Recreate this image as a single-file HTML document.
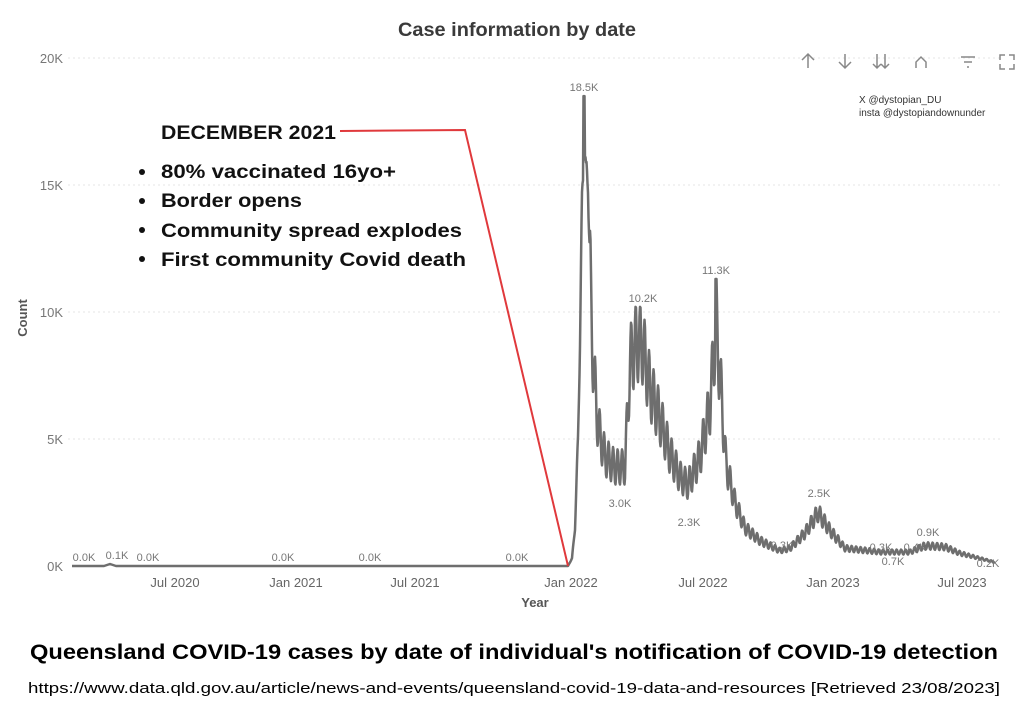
<!DOCTYPE html>
<html><head><meta charset="utf-8"><style>
body{margin:0;background:#fff;width:1016px;height:707px;overflow:hidden;font-family:"Liberation Sans",sans-serif}
</style></head><body>
<svg id="s" width="1016" height="707" xmlns="http://www.w3.org/2000/svg" font-family="Liberation Sans, sans-serif">
<text x="398" y="36" textLength="238" lengthAdjust="spacingAndGlyphs" font-size="19" font-weight="bold" fill="#3a3a3a">Case information by date</text>
<g stroke="#e6e6e6" stroke-dasharray="2,3" stroke-width="1">
<line x1="68" x2="1000" y1="58" y2="58"/><line x1="68" x2="1000" y1="185" y2="185"/>
<line x1="68" x2="1000" y1="312" y2="312"/><line x1="68" x2="1000" y1="439" y2="439"/>
</g>
<g font-size="13" fill="#777" text-anchor="end">
<text x="63" y="63">20K</text><text x="63" y="190">15K</text><text x="63" y="317">10K</text>
<text x="63" y="444">5K</text><text x="63" y="571">0K</text></g>
<text transform="translate(27,318) rotate(-90)" font-size="13" font-weight="bold" fill="#555" text-anchor="middle">Count</text>
<g font-size="13" fill="#666" text-anchor="middle">
<text x="175" y="587">Jul 2020</text><text x="296" y="587">Jan 2021</text><text x="415" y="587">Jul 2021</text>
<text x="571" y="587">Jan 2022</text><text x="703" y="587">Jul 2022</text><text x="833" y="587">Jan 2023</text><text x="962" y="587">Jul 2023</text></g>
<text x="535" y="607" font-size="13" font-weight="bold" fill="#555" text-anchor="middle">Year</text>
<path id="p" fill="none" stroke="#6e6e6e" stroke-width="2.5" stroke-linejoin="round"/>
<g font-size="11" fill="#777" text-anchor="middle">
<text x="84" y="561">0.0K</text><text x="117" y="559">0.1K</text><text x="148" y="561">0.0K</text>
<text x="283" y="561">0.0K</text><text x="370" y="561">0.0K</text><text x="517" y="561">0.0K</text>
<text x="584" y="91">18.5K</text><text x="643" y="302">10.2K</text><text x="716" y="274">11.3K</text>
<text x="620" y="507">3.0K</text><text x="689" y="526">2.3K</text><text x="819" y="497">2.5K</text>
<text x="782" y="549">0.3K</text><text x="881" y="551">0.3K</text><text x="893" y="565">0.7K</text>
<text x="915" y="551">0.4K</text><text x="928" y="536">0.9K</text><text x="988" y="567">0.2K</text></g>
<g font-size="10" fill="#333"><text x="859" y="103">X @dystopian_DU</text><text x="859" y="116">insta @dystopiandownunder</text></g>
<g stroke="#888" stroke-width="1.5" fill="none">
<path d="M808 68v-14M802 60l6-6 6 6"/><path d="M845 54v14M839 62l6 6 6-6"/>
<path d="M877 54v14M885 54v14M873 64l4 4 4-4M881 64l4 4 4-4"/>
<path d="M916 68v-6l5-5 5 5v6"/><path d="M961 57h14M964 62h8M967 67h2"/>
<path d="M1000 60v-5h5M1009 55h5v5M1014 64v5h-5M1005 69h-5v-5"/></g>
<polyline points="340,131 465,130 568,566" fill="none" stroke="#e0393c" stroke-width="2"/>
<g font-weight="bold" fill="#111" font-size="19" lengthAdjust="spacingAndGlyphs">
<text x="161" y="139" textLength="175" lengthAdjust="spacingAndGlyphs">DECEMBER 2021</text>
<text x="161" y="178" textLength="235" lengthAdjust="spacingAndGlyphs">80% vaccinated 16yo+</text>
<text x="161" y="207" textLength="141" lengthAdjust="spacingAndGlyphs">Border opens</text>
<text x="161" y="237" textLength="301" lengthAdjust="spacingAndGlyphs">Community spread explodes</text>
<text x="161" y="266" textLength="305" lengthAdjust="spacingAndGlyphs">First community Covid death</text></g>
<g fill="#111"><circle cx="142" cy="172" r="3"/><circle cx="142" cy="201" r="3"/><circle cx="142" cy="230" r="3"/><circle cx="142" cy="259" r="3"/></g>
<text x="30" y="659" textLength="968" lengthAdjust="spacingAndGlyphs" font-size="21" font-weight="bold" fill="#000">Queensland COVID-19 cases by date of individual's notification of COVID-19 detection</text>
<text x="28" y="693" textLength="972" lengthAdjust="spacingAndGlyphs" font-size="15" fill="#000">https://www.data.qld.gov.au/article/news-and-events/queensland-covid-19-data-and-resources [Retrieved 23/08/2023]</text>
</svg>
<script>
var env=[[568,0],[572,0.3],[575,1.5],[578,5],[580,9],[582,14],[584,17],[586,15],[588,15.5],[591,10],[594,7.5],[598,5.5],[605,4.3],[615,3.9],[625,3.9],[630,8],[636,8.8],[642,8.8],[650,7],[660,5.8],[670,4.4],[680,3.5],[688,3.2],[700,4.3],[710,6.3],[716,9.5],[720,7.5],[726,4],[735,2.5],[745,1.5],[760,1],[780,0.6],[790,0.7],[805,1.3],[818,2.1],[830,1.4],[845,0.7],[880,0.55],[910,0.55],[925,0.8],[945,0.75],[960,0.5],[995,0.15]];
function f(x){for(var i=0;i<env.length-1;i++){var a=env[i],b=env[i+1];if(x>=a[0]&&x<=b[0])return a[1]+(b[1]-a[1])*(x-a[0])/(b[0]-a[0]);}return 0;}
var d="M72 566 L104 566 L110 564 L116 566 L568 566";
for(var x=568;x<=995;x+=0.5){var v=f(x);var o=x<590?0.06:0.18;v=v*(1+o*Math.sin(2*Math.PI*x/4.5));if(x>=583.5&&x<=584.5)v=18.5;if(x>=715.5&&x<=716.5)v=11.3;if(x>625&&x<660&&v>10.2)v=10.2;d+=" L"+x+" "+(566-v*25.4).toFixed(1);}
document.getElementById("p").setAttribute("d",d);
</script>
</body></html>
